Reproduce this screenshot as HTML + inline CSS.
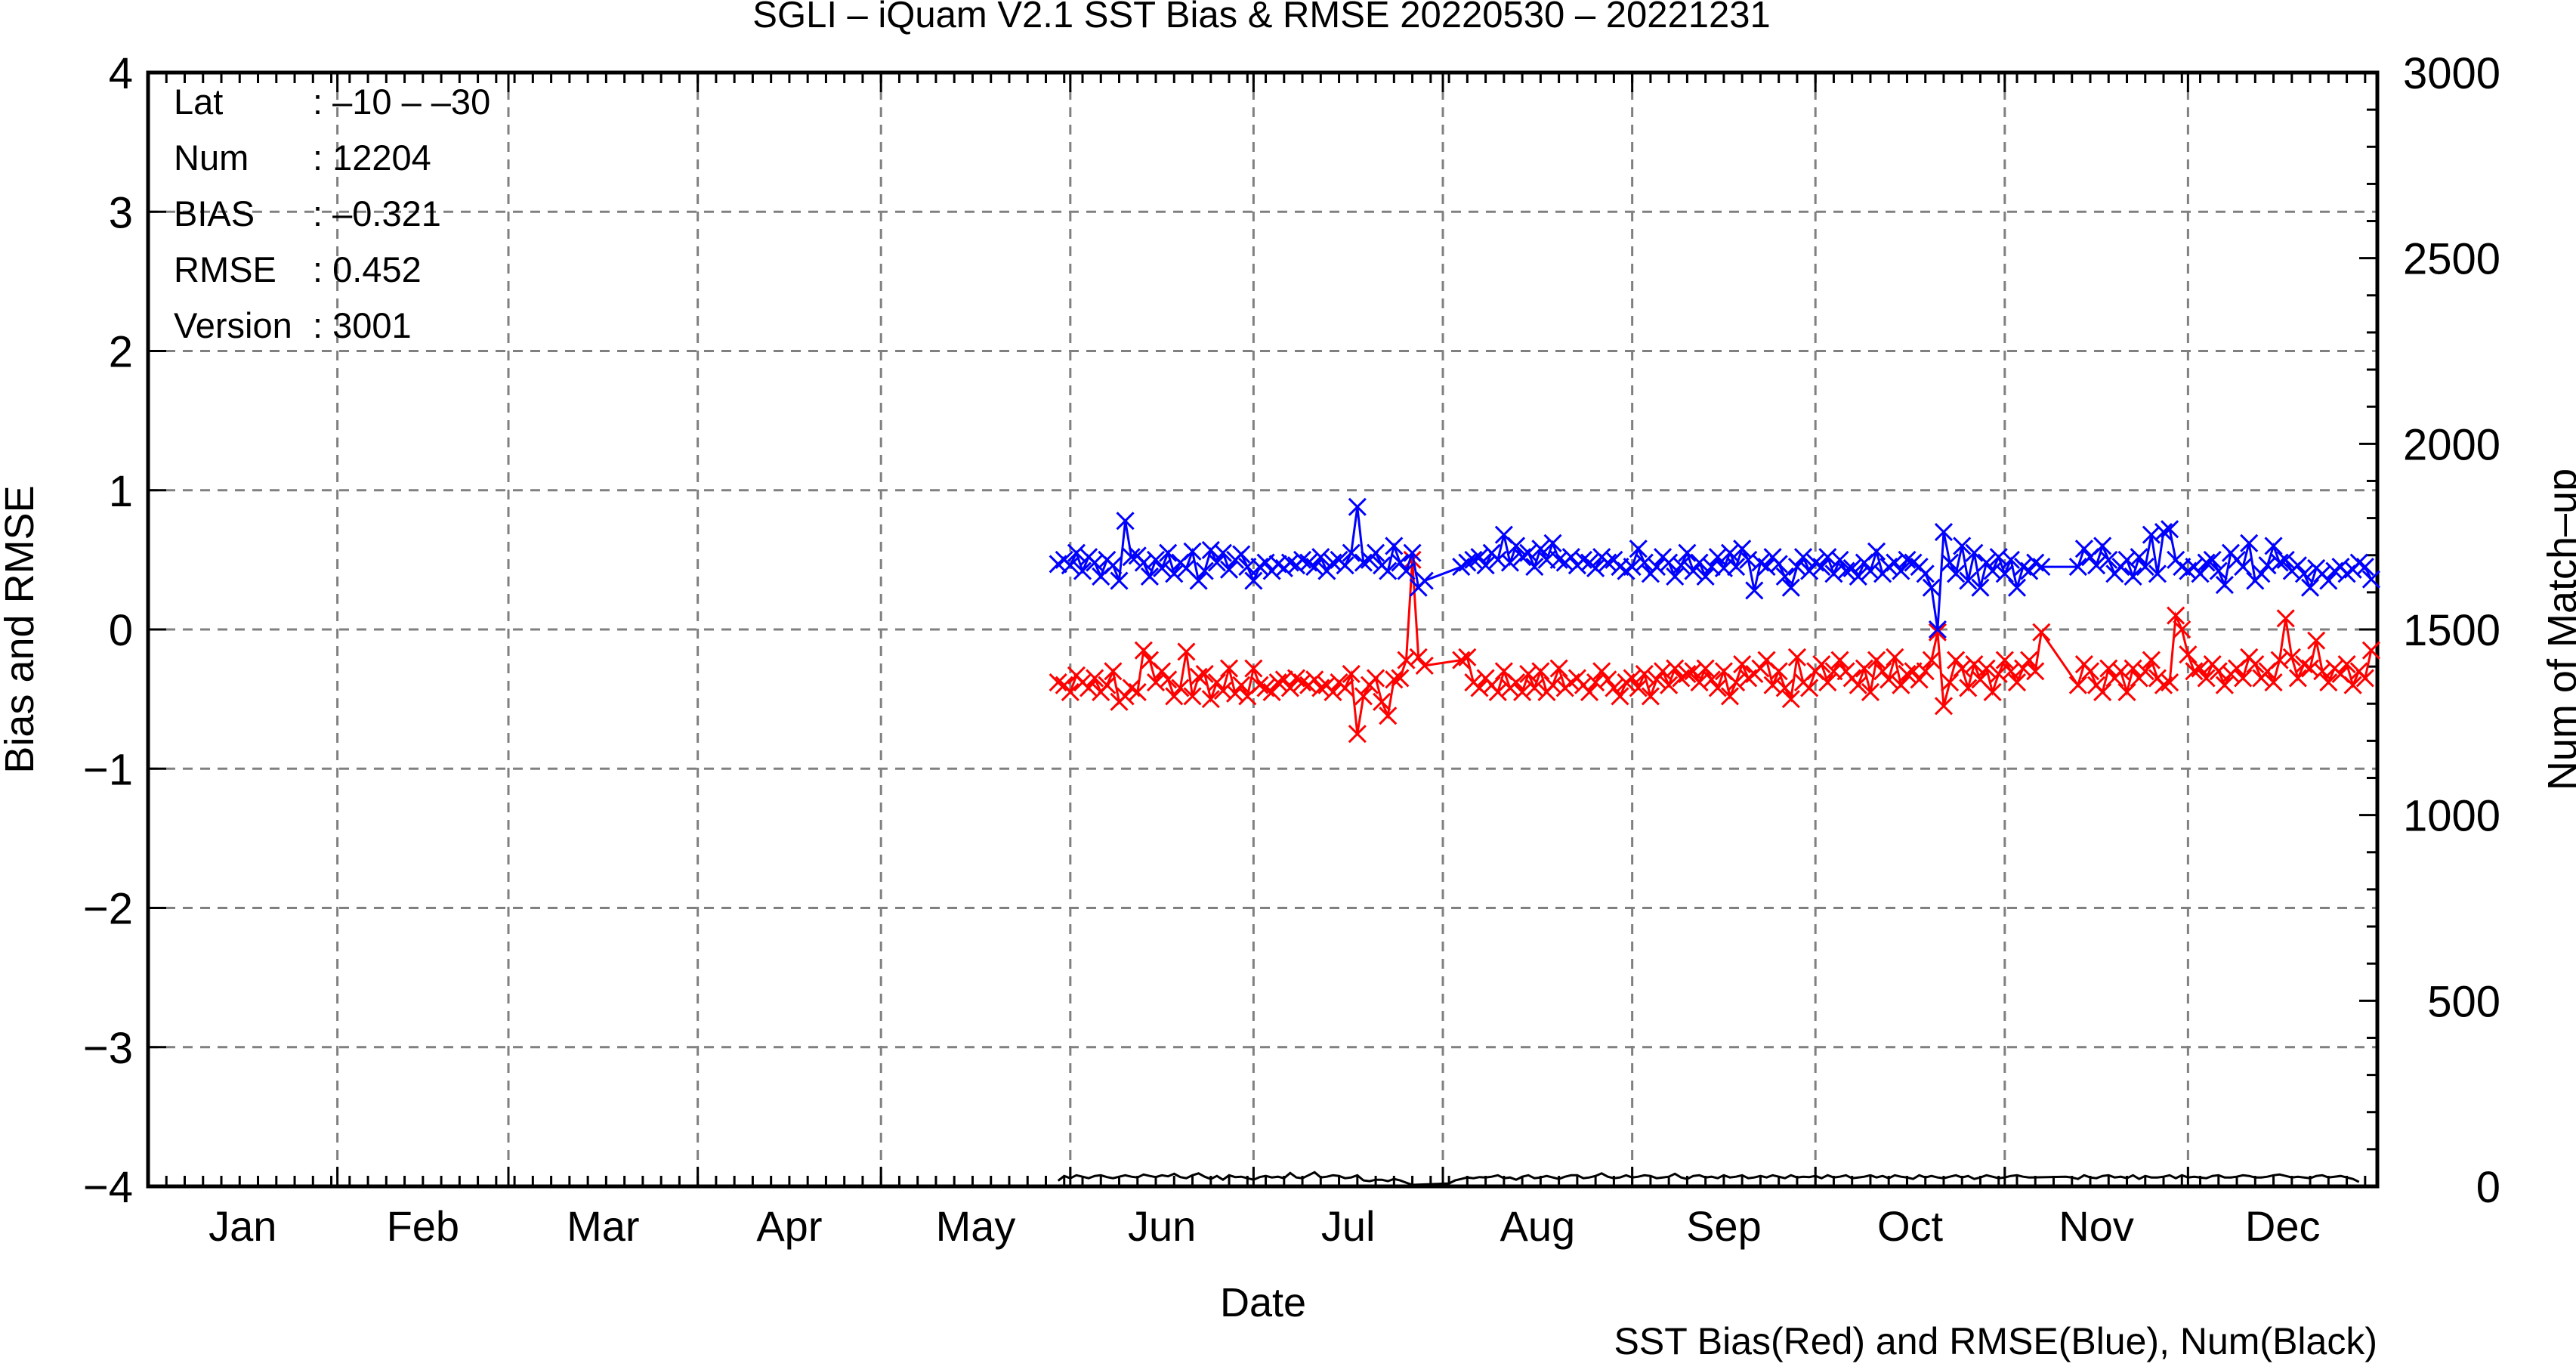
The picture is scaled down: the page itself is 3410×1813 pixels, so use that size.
<!DOCTYPE html>
<html><head><meta charset="utf-8"><style>
html,body{margin:0;padding:0;background:#fff;}
svg{display:block;font-family:"Liberation Sans",sans-serif;}
</style></head><body>
<svg id="chart" width="3410" height="1813" viewBox="0 0 3410 1813" xmlns="http://www.w3.org/2000/svg">
<text x="1670" y="36" font-size="49" text-anchor="middle">SGLI – iQuam V2.1 SST Bias &amp; RMSE 20220530 – 20221231</text>
<g id="grid"></g>
<g id="axes"></g>
<g id="series"></g>
<g font-size="47">
<text x="230" y="151">Lat</text><text x="414" y="151">: –10 – –30</text>
<text x="230" y="225">Num</text><text x="414" y="225">: 12204</text>
<text x="230" y="299">BIAS</text><text x="414" y="299">: –0.321</text>
<text x="230" y="373">RMSE</text><text x="414" y="373">: 0.452</text>
<text x="230" y="447">Version</text><text x="414" y="447">: 3001</text>
</g>
<text x="1672" y="1742" font-size="54" text-anchor="middle">Date</text>
<text transform="translate(44,833) rotate(-90)" font-size="54" text-anchor="middle">Bias and RMSE</text>
<text transform="translate(3410,833) rotate(-90)" font-size="54" text-anchor="middle">Num of Match–up</text>
<text x="3147" y="1792" font-size="50" text-anchor="end">SST Bias(Red) and RMSE(Blue), Num(Black)</text>
</svg>
<script>
const startDay = 149;
const monthNames = ["Jan","Feb","Mar","Apr","May","Jun","Jul","Aug","Sep","Oct","Nov","Dec"];
const monthStarts = [0,31,59,90,120,151,181,212,243,273,304,334,365];
const leftTicks = [-4,-3,-2,-1,0,1,2,3,4];
const rightTicks = [0,500,1000,1500,2000,2500,3000];
const rmseValues = [
.47,.50,.46,.55,.42,.52,.48,.38,.50,.46,.35,.78,.52,.53,.48,.38,.50,.44,.55,.40,.48,.44,.56,.35,.42,.57,.48,.55,.43,.50,.54,.45,
.35,.45,.48,.42,.47,.44,.48,.46,.50,.48,.45,.52,.42,.48,.50,.46,.55,.88,.48,.50,.55,.46,.42,.60,.48,.42,.55,.30,.35,
null,null,null,null,null,
.45,.48,.50,.52,.46,.55,.50,.68,.48,.60,.52,.55,.45,.58,.50,.62,.50,.48,.52,.46,.50,.48,.44,.52,.48,.50,.45,.42,.45,.58,
.48,.40,.45,.52,.48,.38,.46,.55,.42,.48,.38,.45,.52,.44,.55,.45,.58,.50,.28,.48,.45,.52,.47,.38,.30,.45,.52,.42,.48,.45,
.52,.40,.50,.42,.44,.38,.48,.42,.56,.40,.45,.48,.42,.50,.48,.45,.40,.30,
.00,.70,.48,.40,.60,.35,.55,.30,.48,.42,.52,.40,.50,.30,.45,.42,.48,.45,
null,null,null,null,null,
.45,.58,.52,.46,.60,.50,.40,.45,.50,.38,.52,.45,.68,.40,.70,.72,.50,.45,.42,.45,.40,.48,.50,.42,.32,.55,.50,.45,.62,.35,
.40,.46,.60,.48,.50,.42,.46,.40,.30,.44,.40,.35,.42,.45,.40,.43,.48,.45,.36];
const biasValues = [
-.38,-.40,-.45,-.33,-.38,-.42,-.35,-.45,-.40,-.30,-.52,-.48,-.42,-.45,-.15,-.22,-.38,-.30,-.36,-.48,-.42,-.16,-.48,-.34,-.32,-.50,-.38,-.44,-.28,-.46,-.40,-.48,
-.28,-.40,-.42,-.45,-.38,-.36,-.42,-.35,-.38,-.40,-.36,-.42,-.40,-.45,-.38,-.42,-.32,-.75,-.48,-.40,-.35,-.52,-.62,-.36,-.35,-.22,0.50,-.20,-.26,
null,null,null,null,null,
-.22,-.20,-.38,-.42,-.35,-.40,-.45,-.30,-.42,-.38,-.45,-.32,-.42,-.30,-.45,-.40,-.28,-.42,-.38,-.35,-.40,-.45,-.38,-.30,-.36,-.42,-.48,-.38,-.35,-.42,
-.32,-.48,-.36,-.30,-.40,-.28,-.35,-.32,-.30,-.38,-.28,-.36,-.42,-.30,-.48,-.38,-.25,-.35,-.32,-.28,-.22,-.40,-.30,-.42,-.50,-.20,-.38,-.42,-.30,-.25,
-.38,-.30,-.22,-.30,-.35,-.40,-.28,-.45,-.22,-.30,-.36,-.20,-.40,-.32,-.30,-.36,-.30,-.22,
-.02,-.55,-.38,-.22,-.28,-.42,-.25,-.36,-.28,-.45,-.32,-.22,-.30,-.38,-.28,-.22,-.30,-.02,
null,null,null,null,null,
-.40,-.25,-.30,-.40,-.45,-.28,-.35,-.30,-.45,-.28,-.35,-.30,-.22,-.35,-.40,-.38,.10,.00,-.18,-.30,-.28,-.35,-.25,-.30,-.40,-.32,-.28,-.35,-.20,-.25,
-.35,-.30,-.38,-.22,.08,-.20,-.35,-.25,-.28,-.08,-.30,-.38,-.28,-.32,-.25,-.40,-.30,-.35,-.15];
const numValues = [
15,28,22,30,26,22,28,30,25,22,26,30,26,24,32,28,25,30,27,34,25,22,30,35,26,20,28,18,30,25,26,22,
18,25,28,24,26,22,36,24,22,30,38,24,26,30,28,22,24,30,16,14,18,18,14,20,16,10,4,
null,null,null,null,null,
8,16,20,24,22,25,24,26,30,22,24,18,26,30,22,24,28,24,20,26,30,30,22,24,28,35,26,22,24,30,
24,26,30,28,22,24,26,34,24,20,28,30,24,26,22,30,24,26,30,22,24,28,24,30,26,22,30,24,26,25,
28,22,30,24,26,30,22,24,26,30,24,28,22,30,26,24,20,30,
24,28,24,22,26,30,24,28,20,24,30,26,22,24,28,30,26,24,
null,null,null,null,null,
26,24,20,30,24,22,28,30,24,26,22,30,20,28,24,24,26,30,22,30,24,26,24,22,28,30,24,24,26,30,
28,24,24,26,30,32,28,24,26,24,22,28,30,24,26,28,24,20,12];

const SVGNS = "http://www.w3.org/2000/svg";
const L = 196, R = 3147, T = 96, B = 1570;
function xDay(d){ return L + (R - L) * d / 365; }
function yLeft(v){ return B - (B - T) * (v + 4) / 8; }
function yRight(v){ return B - (B - T) * v / 3000; }
function mk(tag, attrs, parent){
  const el = document.createElementNS(SVGNS, tag);
  for (const k in attrs) el.setAttribute(k, attrs[k]);
  parent.appendChild(el);
  return el;
}
const grid = document.getElementById('grid');
const axes = document.getElementById('axes');
const series = document.getElementById('series');

leftTicks.forEach(v => {
  if (v === -4 || v === 4) return;
  const g = mk('line', {x1:L, x2:R, y1:yLeft(v), y2:yLeft(v), stroke:'#808080', 'stroke-width':3, 'stroke-dasharray':'13 10'}, grid);
  
  
});
for (let m = 1; m < 12; m++) {
  const g = mk('line', {x1:xDay(monthStarts[m]), x2:xDay(monthStarts[m]), y1:T, y2:B, stroke:'#808080', 'stroke-width':3, 'stroke-dasharray':'13 10'}, grid);
  
  
}
for (let m = 0; m < 12; m++) {
  const t = mk('text', {x:xDay((monthStarts[m] + monthStarts[m+1]) / 2), y:1642, 'font-size':56, 'text-anchor':'middle'}, axes);
  t.textContent = monthNames[m];
  
  
}
const frame = mk('rect', {x:L, y:T, width:R-L, height:B-T, fill:'none', stroke:'#000', 'stroke-width':5}, axes);


for (let d = 3; d < 365; d += 3) {
  const x = xDay(d);
  const a = mk('line', {x1:x, x2:x, y1:B, y2:B-14, stroke:'#000', 'stroke-width':3}, axes);
  
  
  const b = mk('line', {x1:x, x2:x, y1:T, y2:T+14, stroke:'#000', 'stroke-width':3}, axes);
  
  
}
for (let m = 1; m < 12; m++) {
  const x = xDay(monthStarts[m]);
  const a = mk('line', {x1:x, x2:x, y1:B, y2:B-26, stroke:'#000', 'stroke-width':3}, axes);
  
  
  const b = mk('line', {x1:x, x2:x, y1:T, y2:T+26, stroke:'#000', 'stroke-width':3}, axes);
  
  
}
leftTicks.forEach(v => {
  const y = yLeft(v);
  const tk = mk('line', {x1:L, x2:L+24, y1:y, y2:y, stroke:'#000', 'stroke-width':3}, axes);
  
  
  const t = mk('text', {x:176, y:y+21, 'font-size':58, 'text-anchor':'end'}, axes);
  t.textContent = v < 0 ? '−' + Math.abs(v) : String(v);
  
  
});
for (let v = 0; v <= 3000; v += 100) {
  const y = yRight(v);
  const major = v % 500 === 0;
  const tk = mk('line', {x1:R, x2:R-(major?24:14), y1:y, y2:y, stroke:'#000', 'stroke-width':3}, axes);
  
  
}
rightTicks.forEach(v => {
  const t = mk('text', {x:3310, y:yRight(v)+21, 'font-size':58, 'text-anchor':'end'}, axes);
  t.textContent = String(v);
  
  
});
function drawSeries(vals, yfn, color, name, markers) {
  let pts = [];
  vals.forEach((v, i) => { if (v !== null) pts.push([xDay(startDay + i), yfn(v)]); });
  const p = mk('polyline', {points: pts.map(q => q[0].toFixed(1) + ',' + q[1].toFixed(1)).join(' '), fill:'none', stroke:color, 'stroke-width':3}, series);
  
  
  if (markers) {
    pts.forEach(q => {
      const s = 11;
      const m = mk('path', {d:`M${q[0]-s},${q[1]-s}L${q[0]+s},${q[1]+s}M${q[0]-s},${q[1]+s}L${q[0]+s},${q[1]-s}`, stroke:color, 'stroke-width':3, fill:'none'}, series);
      
      
    });
  }
}
drawSeries(numValues, yRight, '#000', 'num', false);
drawSeries(biasValues, yLeft, '#ff0000', 'bias', true);
drawSeries(rmseValues, yLeft, '#0000ff', 'rmse', true);
</script>
</body></html>
